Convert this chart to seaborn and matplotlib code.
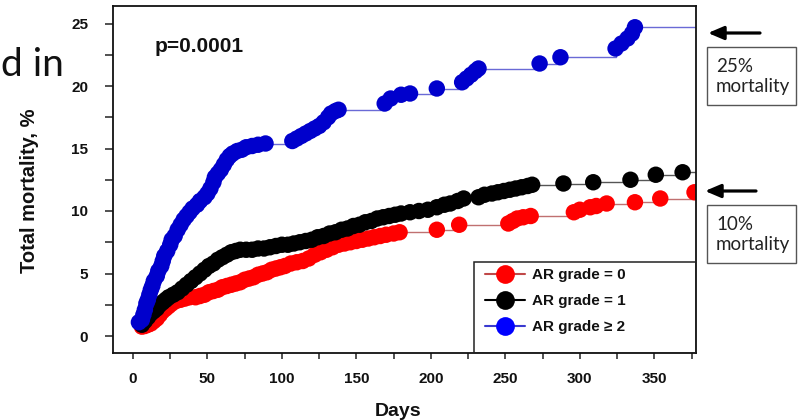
import matplotlib
matplotlib.use("Agg")
import matplotlib.pyplot as plt
import numpy as np
import pandas as pd
import seaborn as sns
from matplotlib.lines import Line2D
from matplotlib.patches import Rectangle
from matplotlib.ticker import MultipleLocator

# ---------------- data ----------------
grade0_days = [6, 8, 10, 12, 14, 16, 18, 20, 22, 24, 26, 29, 32, 35, 38, 42, 45, 48, 51, 54,
               57, 60, 63, 66, 69, 72, 75, 78, 81, 84, 87, 90, 93, 96, 99, 102, 106, 110, 114,
               118, 122, 126, 130, 134, 138, 142, 146, 150, 154, 158, 162, 166, 170, 175, 179,
               204, 219, 252, 255, 258, 262, 267, 296, 300, 307, 311, 318, 337, 354, 377]
grade0_mort = [0.75, 0.8, 0.9, 1.0, 1.2, 1.4, 1.7, 2.0, 2.2, 2.4, 2.6, 2.8, 2.9, 3.0, 3.1, 3.1,
               3.2, 3.3, 3.5, 3.6, 3.7, 3.9, 4.0, 4.1, 4.2, 4.3, 4.5, 4.6, 4.7, 4.9, 5.0, 5.1,
               5.3, 5.4, 5.5, 5.6, 5.8, 5.9, 6.0, 6.2, 6.5, 6.7, 6.9, 7.1, 7.3, 7.4, 7.5, 7.6,
               7.7, 7.8, 7.9, 8.0, 8.1, 8.2, 8.3, 8.5, 8.9, 9.0, 9.2, 9.4, 9.5, 9.6, 9.9, 10.1,
               10.3, 10.4, 10.6, 10.7, 11.0, 11.5]

grade1_days = [6, 8, 10, 12, 14, 16, 18, 20, 22, 24, 27, 30, 33, 36, 39, 42, 45, 48, 51, 54,
               57, 60, 63, 66, 69, 72, 76, 80, 84, 88, 92, 96, 100, 104, 108, 112, 116, 120,
               124, 128, 132, 136, 140, 144, 148, 152, 156, 160, 164, 168, 172, 176, 180, 186,
               192, 198, 204, 209, 213, 218, 222, 232, 236, 241, 245, 249, 253, 257, 261, 265,
               268, 289, 309, 334, 351, 369]
grade1_mort = [0.9, 1.2, 1.5, 1.8, 2.0, 2.2, 2.5, 2.7, 2.9, 3.1, 3.3, 3.5, 3.8, 4.1, 4.4, 4.7,
               5.0, 5.3, 5.6, 5.8, 6.1, 6.3, 6.5, 6.7, 6.8, 6.9, 6.9, 6.9, 7.0, 7.0, 7.1, 7.2,
               7.3, 7.3, 7.4, 7.5, 7.6, 7.7, 7.9, 8.0, 8.2, 8.3, 8.5, 8.6, 8.8, 8.9, 9.1, 9.2,
               9.4, 9.5, 9.6, 9.7, 9.8, 9.9, 10.0, 10.1, 10.3, 10.5, 10.6, 10.8, 11.0, 11.1,
               11.3, 11.4, 11.5, 11.6, 11.7, 11.8, 11.9, 12.0, 12.1, 12.2, 12.3, 12.5, 12.9, 13.1]

grade2_days = [4, 6, 7, 8, 9, 10, 11, 12, 13, 14, 16, 17, 19, 20, 21, 23, 25, 26, 28, 30, 32,
               34, 36, 38, 40, 43, 45, 48, 50, 52, 54, 55, 57, 59, 61, 63, 65, 67, 70, 73, 76,
               80, 84, 89, 107, 110, 113, 116, 119, 122, 125, 128, 131, 133, 136, 138, 169, 173,
               180, 186, 204, 221, 224, 227, 230, 232, 273, 287, 324, 328, 332, 335, 337]
grade2_mort = [1.1, 1.3, 1.7, 2.1, 2.6, 2.9, 3.3, 3.7, 4.0, 4.4, 4.8, 5.2, 5.6, 6.0, 6.4, 6.8,
               7.3, 7.7, 8.0, 8.5, 8.9, 9.3, 9.6, 9.9, 10.2, 10.5, 10.8, 11.1, 11.4, 11.8, 12.3,
               12.7, 13.0, 13.3, 13.7, 14.1, 14.4, 14.6, 14.8, 14.9, 15.1, 15.2, 15.3, 15.4,
               15.6, 15.8, 16.0, 16.2, 16.4, 16.6, 16.8, 17.1, 17.5, 17.8, 18.0, 18.1, 18.6,
               19.0, 19.3, 19.4, 19.8, 20.3, 20.6, 20.9, 21.2, 21.4, 21.8, 22.3, 23.0, 23.4,
               23.8, 24.2, 24.7]

labels = ["AR grade = 0", "AR grade = 1", "AR grade \u2265 2"]
follow_up_end = 378
p_text = "p=0.0001"

# ---------------- figure ----------------
sns.set_theme(style="ticks")
plt.rcParams['font.family'] = ['Liberation Sans', 'DejaVu Sans']

W, H = 798, 420
fig = plt.figure(figsize=(W / 100, H / 100), dpi=100)
fig.patch.set_facecolor('white')
ax = fig.add_axes([113 / W, 1 - 353 / H, (696 - 113) / W, (353 - 6) / H])
ax.set_facecolor('white')

series = [
    (grade0_days, grade0_mort, '#ff0000', '#c07070', 2),
    (grade1_days, grade1_mort, '#000000', '#555555', 3),
    (grade2_days, grade2_mort, '#0000cc', '#6a6ad6', 4),
]
for days, mort, mcol, lcol, z in series:
    line_df = pd.DataFrame({'day': days + [follow_up_end], 'mort': mort + [mort[-1]]})
    sns.lineplot(data=line_df, x='day', y='mort', ax=ax, color=lcol, lw=1.0,
                 drawstyle='steps-post', estimator=None, sort=False, zorder=1)
    pt_df = pd.DataFrame({'day': days, 'mort': mort})
    sns.scatterplot(data=pt_df, x='day', y='mort', ax=ax, color=mcol, s=140,
                    edgecolor='none', linewidth=0, zorder=z)

ax.set_xlim(-13.4, 378)
ax.set_ylim(-1.36, 26.4)
ax.set_xlabel('')
ax.set_ylabel('')

ax.xaxis.set_major_locator(MultipleLocator(50))
ax.xaxis.set_minor_locator(MultipleLocator(25))
ax.yaxis.set_major_locator(MultipleLocator(5))
ax.yaxis.set_minor_locator(MultipleLocator(2.5))
ax.tick_params(axis='x', which='both', direction='out', length=4, width=1.1,
               color='#222222', labelsize=11, pad=10)
ax.tick_params(axis='y', which='both', direction='out', length=6, width=1.1,
               color='#222222', labelsize=11, pad=12)
for lab in ax.get_xticklabels() + ax.get_yticklabels():
    lab.set_fontweight('bold')
    lab.set_color('#111111')
for sp in ax.spines.values():
    sp.set_color('#111111')
    sp.set_linewidth(1.3)

# axis labels
fig.text(30 / W, 1 - 191 / H, 'Total mortality, %', rotation=90, ha='center', va='center',
         fontsize=14.5, fontweight='bold', color='#111111')
fig.text(398 / W, 1 - 416 / H, 'Days', ha='center', va='baseline',
         fontsize=14, fontweight='bold', color='#111111')

# p-value
fig.text(155 / W, 1 - 52 / H, p_text, ha='left', va='baseline', fontsize=15,
         fontweight='bold', color='#111111')

# slide remnant text
fig.text(1 / W, 1 - 76 / H, 'd in', ha='left', va='baseline', fontsize=28,
         family=['Lato', 'DejaVu Sans'], color='#111111')

# legend box + entries
ax.add_patch(Rectangle(((474 - 113) / 583, 0), (696 - 474) / 583, (353 - 262) / 347,
                       transform=ax.transAxes, fill=False, edgecolor='#222222', lw=1.1,
                       zorder=6))
handles = [
    Line2D([], [], color='#c04848', lw=1.5, marker='o', markersize=13.5,
           markerfacecolor='#ff0000', markeredgecolor='none'),
    Line2D([], [], color='#000000', lw=1.5, marker='o', markersize=13.5,
           markerfacecolor='#000000', markeredgecolor='none'),
    Line2D([], [], color='#3a3ad0', lw=1.5, marker='o', markersize=13.5,
           markerfacecolor='#0000ff', markeredgecolor='none'),
]
leg = ax.legend(handles, labels, loc='upper left',
                bbox_to_anchor=((485 - 113) / 583, (353 - 268) / 347),
                frameon=False, borderpad=0, borderaxespad=0, handlelength=2.6,
                handletextpad=0.5, labelspacing=0.8,
                prop={'size': 11, 'weight': 'bold'})
for t in leg.get_texts():
    t.set_color('#111111')

# right-hand annotations
def fx(px):
    return px / W

def fy(py):
    return 1 - py / H

for y_arrow, x0, x1 in [(33, 760, 708), (191, 756, 705)]:
    fig.add_artist(matplotlib.patches.FancyArrowPatch(
        (fx(x0), fy(y_arrow)), (fx(x1), fy(y_arrow)), transform=fig.transFigure,
        arrowstyle='-|>,head_length=0.47,head_width=0.2', mutation_scale=20,
        lw=2.3, color='black', shrinkA=0, shrinkB=0))

for top, bot, line1, base1, base2 in [(47, 105, '25%', 72, 92), (205, 263, '10%', 230, 250)]:
    fig.add_artist(Rectangle((fx(707), fy(bot)), (796 - 707) / W, (bot - top) / H,
                             transform=fig.transFigure, fill=False, edgecolor='#555555',
                             lw=1.0))
    fig.text(fx(716), fy(base1), line1, ha='left', va='baseline', fontsize=13.5,
             family=['Lato', 'DejaVu Sans'], color='#222222')
    fig.text(fx(716), fy(base2), 'mortality', ha='left', va='baseline', fontsize=13.5,
             family=['Lato', 'DejaVu Sans'], color='#222222')

fig.savefig('out.png', dpi=100)
